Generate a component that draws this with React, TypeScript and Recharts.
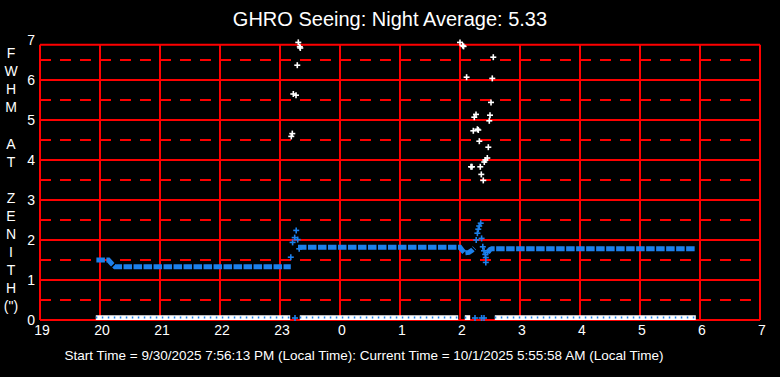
import React from 'react';
import { ComposedChart, XAxis, YAxis, Scatter, ReferenceLine, ReferenceArea } from 'recharts';

// ---- axis ticks (hours after 19:00; values > 24 are after midnight) ----
const hourTicks = [19, 20, 21, 22, 23, 24, 25, 26, 27, 28, 29, 30, 31];
const valueTicks = [0, 1, 2, 3, 4, 5, 6, 7];
const solidLevels = [0, 1, 2, 3, 4, 5, 6, 6.88];
const dashedLevels = [0.5, 1.5, 2.5, 3.5, 4.5, 5.5, 6.5];

// ---- blue (seeing at zenith) dense runs ----
const blueLowTimes = [19.94, 20.14, 20.2, 20.25, 23.18];
const blueLowValues = [1.5, 1.5, 1.4, 1.33, 1.33];
const blueMidTimes = [23.3, 26.0, 26.04, 26.08, 26.15, 26.2, 26.24];
const blueMidValues = [1.82, 1.82, 1.74, 1.68, 1.69, 1.74, 1.8];
const blueHighTimes = [26.46, 26.5, 26.53, 29.93];
const blueHighValues = [1.69, 1.76, 1.78, 1.78];

// ---- blue individual points ----
const blueTimes = [23.18, 23.21, 23.245, 23.27, 23.295, 23.32,
  26.27, 26.29, 26.305, 26.32, 26.345, 26.36, 26.38, 26.4, 26.42, 26.43, 26.43, 26.46];
const blueValues = [1.57, 1.94, 2.06, 2.24, 2.01, 1.78,
  2.0, 2.17, 2.27, 2.35, 2.42, 2.04, 1.83, 1.73, 1.64, 1.56, 1.44, 1.69];
const blueZeroTimes = [23.25, 26.25, 26.36, 26.4];

// ---- white (raw) individual points ----
const whiteTimes = [23.305, 23.338, 23.33, 23.288, 23.222, 23.267, 23.205, 23.188,
  26.0, 26.045, 26.06, 26.555, 26.11, 26.538, 26.517, 26.267, 26.238, 26.5, 26.488,
  26.222, 26.305, 26.29, 26.322, 26.472, 26.455, 26.422, 26.405, 26.183, 26.2,
  26.338, 26.355, 26.388];
const whiteValues = [6.94, 6.8, 6.83, 6.37, 5.65, 5.62, 4.66, 4.59,
  6.94, 6.86, 6.84, 6.57, 6.07, 6.04, 5.44, 5.14, 5.07, 5.12, 4.98,
  4.73, 4.75, 4.77, 4.47, 4.32, 4.05, 4.0, 3.95, 3.83, 3.83,
  3.83, 3.64, 3.49];

// ---- white runs at zero ----
const zeroStarts = [19.93, 23.33, 26.08, 26.58];
const zeroEnds = [23.17, 25.97, 26.17, 29.93];

const titleText = 'GHRO Seeing: Night Average: 5.33';
const footerText = 'Start Time = 9/30/2025 7:56:13 PM (Local Time): Current Time = 10/1/2025 5:55:58 AM (Local Time)';
const yLabelChars = ['F', 'W', 'H', 'M', '', 'A', 'T', '', 'Z', 'E', 'N', 'I', 'T', 'H', '(")'];

const RED = '#ff0000';
const BLUE = '#1c80ec';
const FONT = '"Liberation Sans", Arial, sans-serif';
const BAR_H = 0.12; // thickness of the zero-level marker band (≈5px)

const zip = (xs: number[], ys: number[]) => xs.map((x, i) => ({ x, y: ys[i] }));

const makeCross = (color: string, lift = 0) => (props: any) => {
  const { cx, cy } = props;
  if (cx == null || cy == null) return <g />;
  const y = cy - lift;
  return (
    <g>
      <line x1={cx - 3} x2={cx + 3} y1={y} y2={y} stroke={color} strokeWidth={1.6} />
      <line x1={cx} x2={cx} y1={y - 3} y2={y + 3} stroke={color} strokeWidth={1.6} />
    </g>
  );
};
const NoDot = () => <g />;

export default function App() {
  const W = 780;
  const H = 377;
  return (
    <div style={{ position: 'absolute', left: 0, top: 0, width: W, height: H, background: '#000' }}>
      <ComposedChart width={W} height={H} margin={{ top: 40, right: 20, bottom: 27, left: 0 }}>
        <XAxis
          dataKey="x"
          type="number"
          domain={[19, 31]}
          ticks={hourTicks}
          tickFormatter={(h: number) => String(h % 24)}
          axisLine={false}
          tickLine={false}
          tickSize={3}
          tick={{ fill: '#fff', fontSize: 14, fontFamily: FONT, dx: 2 }}
          height={30}
          interval={0}
        />
        <YAxis
          dataKey="y"
          type="number"
          domain={[0, 7]}
          ticks={valueTicks}
          axisLine={false}
          tickLine={false}
          tickSize={3}
          tick={{ fill: '#fff', fontSize: 14, fontFamily: FONT }}
          width={40}
          interval={0}
        />
        {dashedLevels.map((v) => (
          <ReferenceLine key={'d' + v} segment={[{ x: 19, y: v }, { x: 31, y: v }]} stroke={RED} strokeWidth={2} strokeDasharray="11 9" />
        ))}
        {hourTicks.map((h) => (
          <ReferenceLine key={'v' + h} segment={[{ x: h, y: 0 }, { x: h, y: 6.88 }]} stroke={RED} strokeWidth={2} />
        ))}
        {solidLevels.map((v) => (
          <ReferenceLine key={'s' + v} segment={[{ x: 19, y: v }, { x: 31, y: v }]} stroke={RED} strokeWidth={2} />
        ))}
        {zeroStarts.map((s, i) => (
          <ReferenceArea
            key={'zw' + i}
            x1={s}
            x2={zeroEnds[i]}
            y1={0}
            y2={BAR_H}
            fill="#fff"
            fillOpacity={1}
            stroke="none"
            zIndex={450}
          />
        ))}
        {zeroStarts.map((s, i) => (
          <ReferenceLine
            key={'zb' + i}
            segment={[{ x: s, y: BAR_H / 2 }, { x: zeroEnds[i], y: BAR_H / 2 }]}
            stroke={BLUE}
            strokeWidth={2}
            strokeDasharray="1.5 4.5"
            zIndex={460}
          />
        ))}
        <Scatter data={zip(blueLowTimes, blueLowValues)} shape={NoDot} line={{ stroke: BLUE, strokeWidth: 5, strokeDasharray: '8.5 1.5' }} lineType="joint" isAnimationActive={false} />
        <Scatter data={zip(blueMidTimes, blueMidValues)} shape={NoDot} line={{ stroke: BLUE, strokeWidth: 5, strokeDasharray: '8.5 1.5' }} lineType="joint" isAnimationActive={false} />
        <Scatter data={zip(blueHighTimes, blueHighValues)} shape={NoDot} line={{ stroke: BLUE, strokeWidth: 5, strokeDasharray: '8.5 1.5' }} lineType="joint" isAnimationActive={false} />
        <Scatter data={zip(blueTimes, blueValues)} shape={makeCross(BLUE)} isAnimationActive={false} />
        <Scatter data={zip(blueZeroTimes, blueZeroTimes.map(() => 0))} shape={makeCross(BLUE, 2)} isAnimationActive={false} />
        <Scatter data={zip(whiteTimes, whiteValues)} shape={makeCross('#fff')} isAnimationActive={false} />
      </ComposedChart>
      <svg width={W} height={H} style={{ position: 'absolute', left: 0, top: 0, pointerEvents: 'none' }}>
        <text x={390} y={26} textAnchor="middle" fill="#fff" fontSize={20} fontFamily={FONT}>{titleText}</text>
        <text x={364} y={360} textAnchor="middle" fill="#fff" fontSize={13.5} fontFamily={FONT}>{footerText}</text>
        {yLabelChars.map((c, i) => (
          <text key={i} x={11} y={58 + i * 18.1} textAnchor="middle" fill="#fff" fontSize={14} fontFamily={FONT}>{c}</text>
        ))}
      </svg>
    </div>
  );
}
